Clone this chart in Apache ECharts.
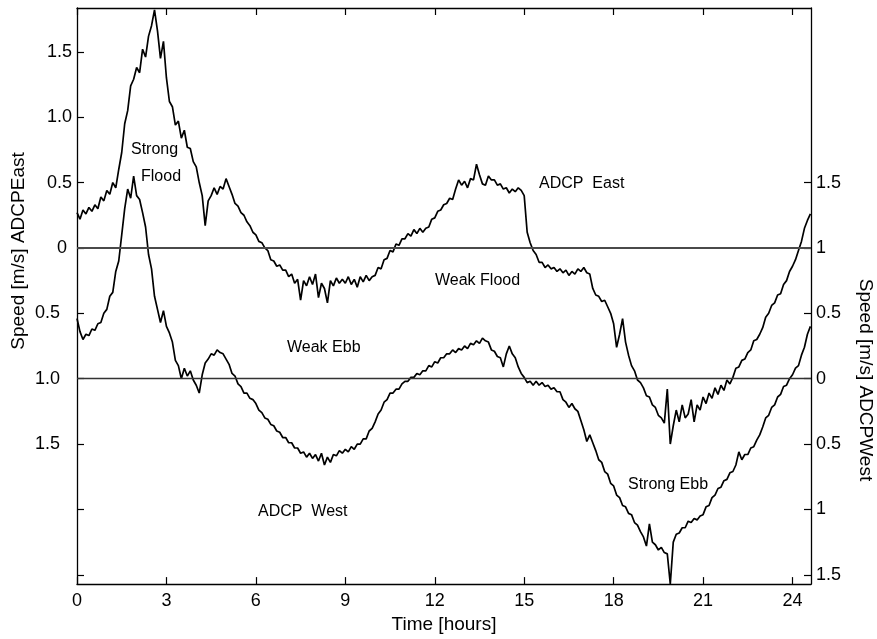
<!DOCTYPE html>
<html>
<head>
<meta charset="utf-8">
<script src="https://cdn.jsdelivr.net/npm/echarts@6/dist/echarts.min.js"></script>
<style>
  html, body { margin: 0; padding: 0; background: #fff; }
  #chart { width: 877px; height: 639px; }
</style>
</head>
<body>
<div id="chart"></div>
<script>
// sampling interval of both records, hours
const STEP = 0.1

// ADCP East speed [m/s], one value per 0.1 h (left axis)
const eastSpeed = [
  0.27, 0.22, 0.29, 0.26, 0.31, 0.28, 0.33, 0.30, 0.39, 0.36,
  0.44, 0.41, 0.50, 0.46, 0.60, 0.73, 0.95, 1.05, 1.24, 1.29,
  1.38, 1.34, 1.52, 1.46, 1.62, 1.70, 1.82, 1.66, 1.45, 1.58,
  1.30, 1.12, 1.08, 0.94, 0.97, 0.84, 0.90, 0.77, 0.76, 0.66,
  0.62, 0.50, 0.40, 0.17, 0.36, 0.40, 0.46, 0.41, 0.47, 0.45,
  0.53, 0.47, 0.41, 0.34, 0.32, 0.27, 0.25, 0.20, 0.17, 0.12,
  0.10, 0.05, 0.04, 0.00, -0.02, -0.09, -0.10, -0.14, -0.13, -0.17,
  -0.17, -0.22, -0.20, -0.27, -0.24, -0.40, -0.25, -0.29, -0.22, -0.28,
  -0.20, -0.38, -0.27, -0.31, -0.42, -0.25, -0.29, -0.23, -0.27, -0.24,
  -0.27, -0.22, -0.28, -0.24, -0.30, -0.22, -0.26, -0.21, -0.25, -0.22,
  -0.21, -0.15, -0.16, -0.09, -0.08, -0.02, -0.03, 0.03, 0.02, 0.07,
  0.07, 0.11, 0.09, 0.14, 0.11, 0.15, 0.12, 0.15, 0.16, 0.22,
  0.23, 0.28, 0.29, 0.33, 0.34, 0.38, 0.37, 0.45, 0.52, 0.48,
  0.51, 0.46, 0.53, 0.52, 0.64, 0.56, 0.49, 0.48, 0.55, 0.52,
  0.52, 0.48, 0.49, 0.45, 0.46, 0.42, 0.45, 0.43, 0.46, 0.44,
  0.40, 0.12, 0.04, -0.02, -0.05, -0.11, -0.11, -0.15, -0.13, -0.16,
  -0.15, -0.18, -0.16, -0.19, -0.17, -0.21, -0.18, -0.20, -0.16, -0.18,
  -0.15, -0.19, -0.20, -0.31, -0.36, -0.37, -0.41, -0.40, -0.45, -0.50,
  -0.58, -0.76, -0.66, -0.54, -0.72, -0.82, -0.90, -0.94, -1.01, -1.03,
  -1.07, -1.13, -1.14, -1.20, -1.22, -1.28, -1.30, -1.34, -1.08, -1.50,
  -1.36, -1.24, -1.33, -1.20, -1.30, -1.27, -1.16, -1.33, -1.20, -1.24,
  -1.14, -1.19, -1.11, -1.15, -1.07, -1.12, -1.05, -1.09, -1.01, -1.04,
  -0.99, -0.92, -0.91, -0.86, -0.85, -0.80, -0.78, -0.71, -0.70, -0.66,
  -0.61, -0.53, -0.50, -0.44, -0.42, -0.36, -0.35, -0.28, -0.25, -0.18,
  -0.14, -0.09, -0.02, 0.05, 0.15, 0.21, 0.26,
]

// ADCP West speed [m/s], one value per 0.1 h (right axis)
const westSpeed = [
  0.46, 0.36, 0.30, 0.34, 0.33, 0.38, 0.37, 0.42, 0.43, 0.50,
  0.53, 0.63, 0.66, 0.82, 0.90, 1.10, 1.30, 1.45, 1.38, 1.55,
  1.40, 1.37, 1.27, 1.16, 0.95, 0.84, 0.63, 0.53, 0.43, 0.52,
  0.40, 0.35, 0.28, 0.14, 0.10, 0.00, 0.08, 0.02, 0.06, -0.01,
  -0.05, -0.11, 0.03, 0.12, 0.15, 0.19, 0.18, 0.22, 0.20, 0.19,
  0.15, 0.11, 0.04, 0.02, -0.04, -0.06, -0.11, -0.11, -0.15, -0.16,
  -0.19, -0.24, -0.26, -0.30, -0.31, -0.35, -0.36, -0.40, -0.41, -0.45,
  -0.45, -0.49, -0.49, -0.53, -0.53, -0.57, -0.56, -0.60, -0.57, -0.61,
  -0.58, -0.63, -0.57, -0.66, -0.60, -0.64, -0.58, -0.59, -0.55, -0.57,
  -0.54, -0.56, -0.52, -0.54, -0.50, -0.50, -0.46, -0.46, -0.40, -0.38,
  -0.33, -0.27, -0.24, -0.18, -0.16, -0.11, -0.11, -0.08, -0.08, -0.04,
  -0.02, -0.02, 0.01, 0.01, 0.04, 0.03, 0.06, 0.06, 0.10, 0.09,
  0.13, 0.12, 0.16, 0.16, 0.19, 0.19, 0.22, 0.20, 0.23, 0.22,
  0.25, 0.23, 0.27, 0.26, 0.29, 0.27, 0.31, 0.29, 0.28, 0.22,
  0.21, 0.17, 0.16, 0.09, 0.19, 0.25, 0.19, 0.16, 0.09, 0.04,
  0.01, -0.03, -0.02, -0.05, -0.02, -0.05, -0.03, -0.06, -0.05, -0.08,
  -0.07, -0.10, -0.10, -0.16, -0.18, -0.22, -0.19, -0.23, -0.25, -0.32,
  -0.39, -0.48, -0.43, -0.49, -0.55, -0.62, -0.64, -0.71, -0.73, -0.80,
  -0.82, -0.89, -0.91, -0.97, -0.98, -1.03, -1.04, -1.10, -1.12, -1.17,
  -1.21, -1.28, -1.11, -1.25, -1.27, -1.31, -1.29, -1.33, -1.34, -1.57,
  -1.25, -1.19, -1.18, -1.14, -1.14, -1.09, -1.10, -1.07, -1.08, -1.05,
  -1.04, -0.98, -0.97, -0.91, -0.89, -0.84, -0.83, -0.78, -0.77, -0.72,
  -0.71, -0.66, -0.56, -0.62, -0.58, -0.58, -0.53, -0.52, -0.47, -0.43,
  -0.37, -0.30, -0.28, -0.22, -0.20, -0.14, -0.12, -0.06, -0.05, 0.00,
  0.03, 0.08, 0.10, 0.18, 0.24, 0.34, 0.40,
]

const timeTicks = [0, 3, 6, 9, 12, 15, 18, 21, 24]
const eastTicks = [-2.5, -2, -1.5, -1, -0.5, 0, 0.5, 1, 1.5]
const eastLabels = [-1.5, -1, -0.5, 0, 0.5, 1, 1.5]
const westTicks = [-1.5, -1, -0.5, 0, 0.5, 1, 1.5]

const FONT = '"Liberation Sans", Arial, Helvetica, sans-serif'

const eastData = eastSpeed.map((v, i) => [+(i * STEP).toFixed(1), v])
const westData = westSpeed.map((v, i) => [+(i * STEP).toFixed(1), v])

function noteText(text, x, y) {
  return {
    type: 'text',
    x,
    y,
    silent: true,
    style: { text, font: '16px ' + FONT, fill: '#000', align: 'left', verticalAlign: 'middle' },
  }
}

const chart = echarts.init(document.getElementById('chart'), null, { renderer: 'canvas' })

// axes stay on the frame, not on the other axis' zero
const axisLine = { show: true, onZero: false, lineStyle: { color: '#000', width: 1.3 } }
const tickStyle = { color: '#000', width: 1.2 }

chart.setOption({
  animation: false,
  backgroundColor: '#fff',
  grid: { left: 77, right: 66, top: 8, bottom: 52 },
  xAxis: [
    {
      type: 'value',
      position: 'bottom',
      min: 0,
      max: 24.62,
      name: 'Time [hours]',
      nameLocation: 'middle',
      nameGap: 26,
      nameTextStyle: { fontSize: 19, fontFamily: FONT, color: '#000' },
      axisLine,
      axisTick: { inside: true, length: 7, customValues: timeTicks, lineStyle: tickStyle },
      axisLabel: { customValues: timeTicks, fontSize: 18, fontFamily: FONT, color: '#000', margin: 8 },
      splitLine: { show: false },
    },
    {
      type: 'value',
      position: 'top',
      min: 0,
      max: 24.62,
      axisLine,
      axisTick: { inside: true, length: 7, customValues: timeTicks, lineStyle: tickStyle },
      axisLabel: { show: false },
      splitLine: { show: false },
    },
  ],
  yAxis: [
    {
      type: 'value',
      position: 'left',
      min: -2.571,
      max: 1.835,
      axisLine,
      axisTick: { inside: true, length: 7, customValues: eastTicks, lineStyle: tickStyle },
      axisLabel: {
        customValues: eastLabels,
        margin: 5,
        color: '#000',
        fontSize: 18,
        fontFamily: FONT,
        formatter: (v) => {
          if (v === 0) return '{z|0}'
          const s = Math.abs(v).toFixed(1)
          return v > 0 ? '{p|' + s + '}' : '{n|' + s + '}'
        },
        rich: {
          p: { fontSize: 18, fontFamily: FONT, color: '#000' },
          z: { fontSize: 18, fontFamily: FONT, color: '#000', padding: [0, 5, 0, 0] },
          n: { fontSize: 18, fontFamily: FONT, color: '#000', padding: [0, 12, 0, 0] },
        },
      },
      splitLine: { show: false },
    },
    {
      type: 'value',
      position: 'right',
      min: -1.571,
      max: 2.835,
      axisLine,
      axisTick: { inside: true, length: 7, customValues: westTicks, lineStyle: tickStyle },
      axisLabel: {
        customValues: westTicks,
        margin: 5,
        color: '#000',
        fontSize: 18,
        fontFamily: FONT,
        formatter: (v) => String(Math.abs(v)),
      },
      splitLine: { show: false },
    },
  ],
  series: [
    {
      name: 'ADCP East',
      type: 'line',
      xAxisIndex: 0,
      yAxisIndex: 0,
      data: eastData,
      showSymbol: false,
      silent: true,
      lineStyle: { color: '#000', width: 1.7 },
      markLine: {
        silent: true,
        symbol: 'none',
        label: { show: false },
        lineStyle: { color: '#4a4a4a', width: 2, type: 'solid' },
        data: [{ yAxis: 0 }],
      },
      z: 3,
    },
    {
      name: 'ADCP West',
      type: 'line',
      xAxisIndex: 0,
      yAxisIndex: 1,
      data: westData,
      showSymbol: false,
      silent: true,
      lineStyle: { color: '#000', width: 1.7 },
      markLine: {
        silent: true,
        symbol: 'none',
        label: { show: false },
        lineStyle: { color: '#333', width: 1.3, type: 'solid' },
        data: [{ yAxis: 0 }],
      },
      z: 3,
    },
  ],
  graphic: [
    {
      type: 'text',
      x: 19,
      y: 251,
      rotation: Math.PI / 2,
      silent: true,
      style: { text: 'Speed [m/s] ADCPEast', font: '19px ' + FONT, fill: '#000', align: 'center', verticalAlign: 'middle' },
    },
    {
      type: 'text',
      x: 865,
      y: 380,
      rotation: -Math.PI / 2,
      silent: true,
      style: { text: 'Speed [m/s] ADCPWest', font: '19px ' + FONT, fill: '#000', align: 'center', verticalAlign: 'middle' },
    },
    noteText('Strong', 131, 150),
    noteText('Flood', 141, 177),
    noteText('ADCP  East', 539, 184),
    noteText('Weak Flood', 435, 281),
    noteText('Weak Ebb', 287, 348),
    noteText('ADCP  West', 258, 512),
    noteText('Strong Ebb', 628, 485),
  ],
})
</script>
</body>
</html>
